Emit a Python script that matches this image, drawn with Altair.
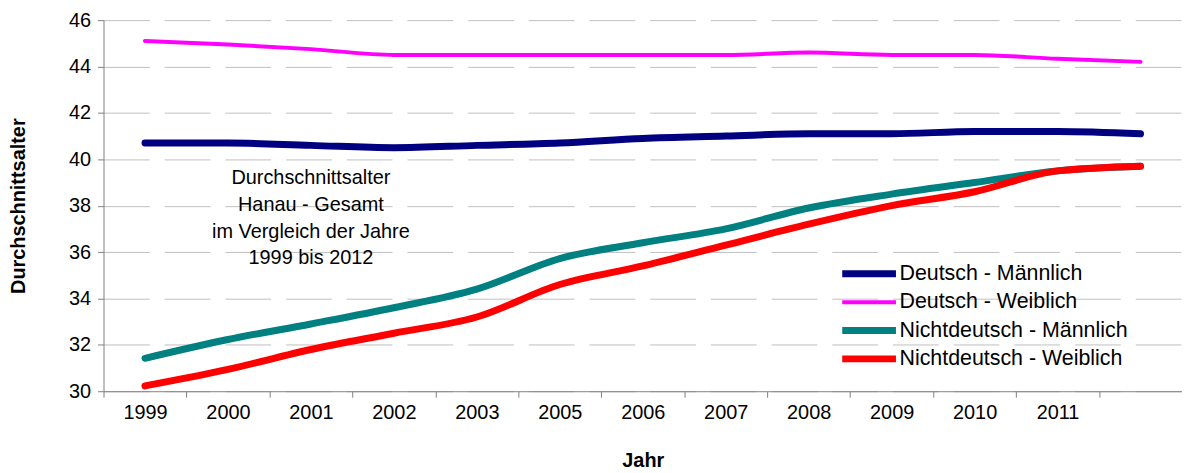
import altair as alt
import pandas as pd

years = ["1999", "2000", "2001", "2002", "2003", "2005", "2006",
         "2007", "2008", "2009", "2010", "2011", "2012"]
deutsch_m = [40.7, 40.7, 40.6, 40.5, 40.6, 40.7, 40.9, 41.0, 41.1, 41.1, 41.2, 41.2, 41.1]
deutsch_w = [45.1, 44.95, 44.75, 44.5, 44.5, 44.5, 44.5, 44.5, 44.6, 44.5, 44.5, 44.33, 44.2]
nicht_m = [31.42, 32.23, 32.9, 33.6, 34.4, 35.72, 36.4, 37.0, 37.9, 38.5, 39.0, 39.5, 39.7]
nicht_w = [30.23, 30.94, 31.8, 32.5, 33.2, 34.6, 35.4, 36.3, 37.2, 38.0, 38.6, 39.5, 39.7]

series_names = ["Deutsch - Männlich", "Deutsch - Weiblich",
                "Nichtdeutsch - Männlich", "Nichtdeutsch - Weiblich"]
series_values = [deutsch_m, deutsch_w, nicht_m, nicht_w]
series_colors = ["#000080", "#FF00FF", "#008080", "#FF0000"]
series_widths = [7, 4, 7, 7]
y_ticks = [30, 32, 34, 36, 38, 40, 42, 44, 46]

note_text = ["Durchschnittsalter", "Hanau - Gesamt", "im Vergleich der Jahre", "1999 bis 2012"]

FONT = "Liberation Sans"

rows = []
for i, (name, vals) in enumerate(zip(series_names, series_values)):
    for y, v in zip(years, vals):
        rows.append({"Jahr": y, "Alter": v, "Serie": name, "order": i})
df = pd.DataFrame(rows)

x_enc = alt.X(
    "Jahr:N",
    sort=years,
    bandPosition=0.5,
    scale=alt.Scale(type="band", domain=years, paddingInner=0, paddingOuter=0),
    axis=alt.Axis(
        title="Jahr",
        labelAngle=0,
        tickBand="extent",
        grid=False,
        tickSize=6,
        labelPadding=5,
        titlePadding=29,
        labelExpr="datum.value == '2012' ? '' : datum.value",
    ),
)

y_enc = alt.Y(
    "Alter:Q",
    scale=alt.Scale(domain=[30, 46], nice=False, zero=False),
    axis=alt.Axis(
        title="Durchschnittsalter",
        values=y_ticks,
        grid=True,
        gridDash=[46, 15],
        gridColor="#c0c0c0",
        gridWidth=1,
        tickSize=6,
        labelPadding=7,
        titlePadding=40,
    ),
)

lines = alt.Chart(df).mark_line(
    strokeCap="round", strokeJoin="round", interpolate="monotone"
).encode(
    x=x_enc,
    y=y_enc,
    color=alt.Color(
        "Serie:N",
        scale=alt.Scale(domain=series_names, range=series_colors),
        legend=alt.Legend(
            title=None,
            orient="none",
            legendX=739,
            legendY=244,
            symbolType="stroke",
            symbolSize=2916,
            clipHeight=22,
            rowPadding=6.5,
            labelFontSize=21.5,
            labelFont=FONT,
            labelColor="#000000",
            labelOffset=0,
            labelLimit=0,
            padding=0,
        ),
    ),
    strokeWidth=alt.StrokeWidth(
        "Serie:N",
        scale=alt.Scale(type="ordinal", domain=series_names, range=series_widths),
        legend=alt.Legend(title=None, labelLimit=0),
    ),
    order=alt.Order("order:Q"),
    detail="Serie:N",
)

note_df = pd.DataFrame({"Jahr": ["2001"], "Alter": [39.2], "text": [note_text]})
note = alt.Chart(note_df).mark_text(
    font=FONT, fontSize=20, lineHeight=27, align="center", baseline="middle", color="#000000"
).encode(
    x=alt.X("Jahr:N", sort=years, bandPosition=0.5),
    y="Alter:Q",
    text="text",
)

chart = alt.layer(lines, note).properties(
    width=1084,
    height=373,
    autosize=alt.AutoSizeParams(type="none"),
    padding={"left": 96, "top": 11, "right": 0, "bottom": 80},
).configure_view(
    stroke=None
).configure_axis(
    labelFont=FONT,
    labelFontSize=20,
    labelColor="#000000",
    titleFont=FONT,
    titleFontSize=20,
    titleFontWeight="bold",
    titleColor="#000000",
    domainColor="#808080",
    tickColor="#808080",
    domainWidth=1,
)

chart.save("out.html", embed_options={"renderer": "svg", "actions": False})
